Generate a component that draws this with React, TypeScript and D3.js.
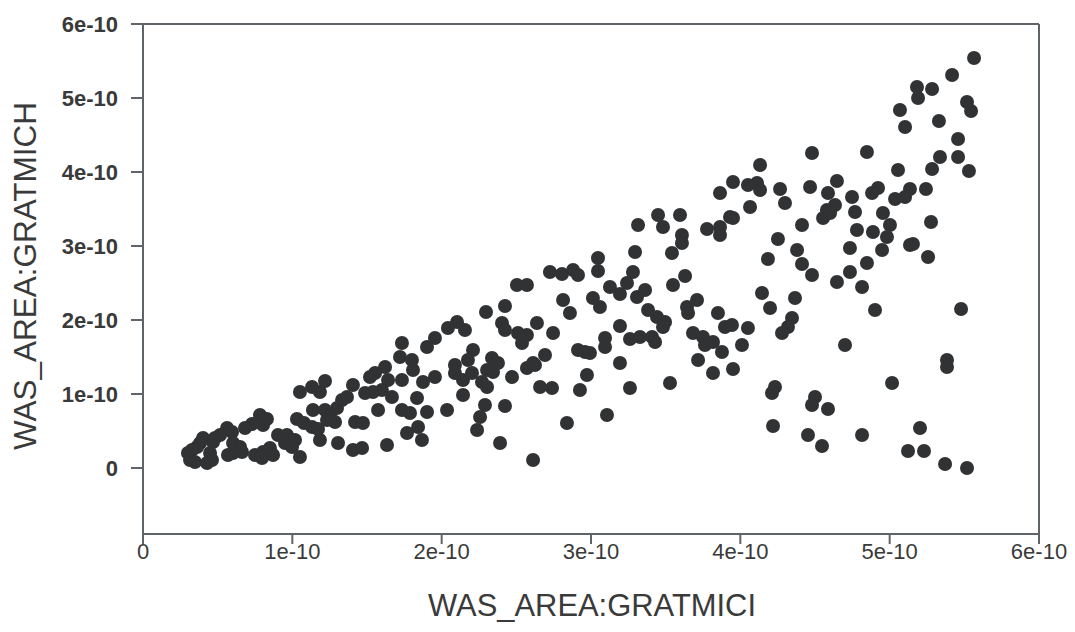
import React from "react";
import * as d3 from "d3";

// Values in units of 1e-10
const UNIT = 1e-10;

const GRATMICI = [
  1.051, 1.132, 1.185, 1.219, 1.138, 1.219, 1.252, 1.299, 1.333, 1.286, 1.232, 1.031, 1.078, 1.132, 1.172, 1.185, 1.306,
  0.783, 0.830, 0.804, 0.730, 0.683, 0.904, 0.964, 1.018, 0.951, 0.998, 1.051, 0.750, 0.804, 0.850, 0.871, 0.797,
  0.563, 0.596, 0.516, 0.482, 0.469, 0.603, 0.650, 0.663, 0.603, 0.569, 0.402, 0.382, 0.362, 0.328, 0.301, 0.315,
  0.348, 0.449, 0.462, 0.429,
  2.504, 2.571, 2.424, 2.297, 2.404, 2.424, 2.638, 2.511, 2.571, 2.538, 2.042, 2.103, 2.156, 1.955, 1.902, 1.734,
  2.210, 2.176, 2.337, 2.377, 2.344, 2.304, 2.089, 2.089, 2.143, 2.203, 1.721, 1.801, 1.808, 1.621, 1.554, 1.520,
  1.641, 1.734, 1.875, 1.955, 2.270, 2.304, 2.471, 2.571, 2.625, 2.659, 1.406, 1.366, 1.487, 1.540, 1.600, 1.667,
  1.835, 2.143, 1.574, 1.734, 1.788, 1.902, 2.036, 2.290, 2.424, 2.257, 2.237, 1.420, 1.473, 1.842, 1.768, 1.868,
  1.634, 1.406, 1.467, 2.391, 2.612,
  3.315, 3.449, 3.482, 3.596, 3.609, 3.609, 3.777, 3.864, 3.864, 3.931, 3.542, 3.295, 3.047, 3.047, 2.725, 2.806,
  2.880, 2.913, 3.281, 3.241, 3.127, 3.194, 3.308, 3.362, 3.549, 3.630, 2.813, 2.859, 3.013, 3.060, 3.382, 3.442,
  3.496, 3.482, 3.643, 3.710, 3.650, 3.850, 3.897, 2.746, 3.194, 3.094, 3.094, 3.261, 3.328, 3.409, 3.429, 3.683,
  3.750, 3.763, 3.817, 3.877, 2.913, 2.960, 2.993, 2.692, 2.612, 3.194, 3.717,
  2.973, 2.739, 2.926, 3.261, 3.529, 3.817, 3.107, 2.839,
  4.480, 4.848, 4.132, 5.056, 3.951, 4.051, 4.112, 4.132, 4.266, 4.467, 4.647, 4.587, 4.748, 4.882, 4.922, 5.036,
  5.103, 3.864, 4.065, 4.299, 4.580, 4.634, 4.554, 4.601, 4.768, 4.955, 3.951, 4.413, 4.781, 4.888, 5.002, 4.982,
  5.136, 4.252, 4.734, 4.949, 4.380, 4.185, 4.848, 4.413, 4.480, 4.734, 4.647, 4.815, 4.145, 4.366, 4.199, 4.902,
  4.346,
  3.944, 4.051, 4.319, 4.279, 4.011, 4.701, 3.951, 4.232, 4.212, 5.016, 4.500, 4.480, 4.587, 4.219, 4.453, 4.547,
  4.815, 5.123,
  5.565, 5.418, 5.183, 5.190, 5.284, 5.069, 5.518, 5.545, 5.103, 5.330, 5.458, 5.337, 5.458, 5.284, 5.531, 5.136,
  5.243, 5.277, 5.156, 5.257,
  5.478, 5.384, 5.384, 5.203, 5.230, 5.371, 5.518,
];

const GRATMICH = [
  1.027, 1.095, 1.027, 1.176, 0.784, 0.784, 0.716, 0.811, 0.919, 0.622, 0.649, 0.662, 0.608, 0.554, 0.527, 0.378, 0.338,
  0.716, 0.662, 0.581, 0.595, 0.541, 0.446, 0.446, 0.378, 0.338, 0.284, 0.149, 0.176, 0.216, 0.270, 0.176, 0.135,
  0.541, 0.486, 0.446, 0.405, 0.351, 0.338, 0.284, 0.216, 0.203, 0.176, 0.405, 0.338, 0.284, 0.243, 0.203, 0.108,
  0.081, 0.203, 0.108, 0.068,
  2.473, 2.473, 2.189, 2.108, 1.959, 1.865, 1.959, 1.824, 1.797, 1.689, 1.892, 1.973, 1.865, 1.757, 1.635, 1.689,
  1.595, 1.459, 1.486, 1.419, 1.297, 1.324, 1.392, 1.284, 1.189, 1.284, 1.500, 1.459, 1.324, 1.365, 1.284, 1.230,
  1.189, 1.189, 1.162, 1.230, 1.162, 1.095, 1.230, 1.351, 1.392, 1.095, 1.122, 0.959, 1.014, 1.027, 1.054, 0.959,
  0.946, 0.986, 0.784, 0.784, 0.743, 0.757, 0.784, 0.851, 0.838, 0.689, 0.514, 0.622, 0.608, 0.554, 0.473, 0.378,
  0.311, 0.243, 0.270, 0.338, 0.108,
  3.284, 3.419, 3.257, 3.419, 3.149, 3.041, 3.230, 3.257, 3.149, 3.392, 2.905, 2.919, 2.838, 2.662, 2.649, 2.622,
  2.676, 2.608, 2.649, 2.500, 2.446, 2.351, 2.311, 2.405, 2.473, 2.595, 2.270, 2.095, 2.297, 2.176, 2.135, 2.041,
  1.973, 1.905, 2.176, 2.270, 2.095, 2.095, 1.905, 1.824, 1.919, 1.757, 1.635, 1.743, 1.770, 1.770, 1.703, 1.824,
  1.770, 1.662, 1.703, 1.568, 1.595, 1.568, 1.554, 1.527, 1.419, 1.419, 1.459,
  1.257, 1.081, 1.054, 1.081, 1.149, 1.284, 0.716, 0.608,
  4.257, 4.270, 4.095, 4.027, 3.865, 3.824, 3.851, 3.757, 3.770, 3.797, 3.878, 3.716, 3.662, 3.716, 3.784, 3.635,
  3.662, 3.716, 3.527, 3.581, 3.486, 3.554, 3.378, 3.446, 3.459, 3.446, 3.378, 3.284, 3.216, 3.189, 3.284, 3.122,
  3.014, 3.095, 2.973, 2.946, 2.946, 2.824, 2.770, 2.757, 2.608, 2.649, 2.514, 2.446, 2.365, 2.297, 2.162, 2.135,
  2.027,
  1.932, 1.892, 1.905, 1.824, 1.662, 1.662, 1.338, 1.095, 1.014, 1.149, 0.959, 0.851, 0.797, 0.568, 0.446, 0.297,
  0.446, 0.230,
  5.541, 5.311, 5.149, 5.000, 5.122, 4.838, 4.946, 4.824, 4.608, 4.689, 4.446, 4.203, 4.203, 4.041, 4.014, 3.770,
  3.770, 3.324, 3.027, 2.851,
  2.149, 1.459, 1.365, 0.541, 0.230, 0.054, 0.000,
];

const X_TICKS = [0, 1, 2, 3, 4, 5, 6];
const X_TICK_LABELS = ["0", "1e-10", "2e-10", "3e-10", "4e-10", "5e-10", "6e-10"];
const Y_TICKS = [0, 1, 2, 3, 4, 5, 6];
const Y_TICK_LABELS = ["0", "1e-10", "2e-10", "3e-10", "4e-10", "5e-10", "6e-10"];

const X_TITLE = "WAS_AREA:GRATMICI";
const Y_TITLE = "WAS_AREA:GRATMICH";

export default function App() {
  const W = 1075;
  const H = 632;
  const left = 143;
  const right = 1039;
  const top = 24;
  const bottom = 534;

  const x = d3.scaleLinear().domain([0, 6 * UNIT]).range([left, right]);
  const y = d3.scaleLinear().domain([-0.892 * UNIT, 6 * UNIT]).range([bottom, top]);

  const axisColor = "#5f6468";
  const textColor = "#3a3a3a";
  const font = "'Liberation Sans', Arial, sans-serif";

  const pts = GRATMICI.map((v, i) => ({ vx: v * UNIT, vy: GRATMICH[i] * UNIT }));

  return (
    <svg
      width={W}
      height={H}
      viewBox={`0 0 ${W} ${H}`}
      style={{ position: "absolute", left: 0, top: 0, background: "#fff" }}
    >
      {/* frame */}
      <line x1={left} x2={right} y1={top} y2={top} stroke={axisColor} strokeWidth={2} />
      <line x1={right} x2={right} y1={top} y2={bottom} stroke={axisColor} strokeWidth={2} />
      <line x1={left} x2={right} y1={bottom} y2={bottom} stroke={axisColor} strokeWidth={2} />
      <line x1={left} x2={left} y1={top} y2={bottom} stroke={axisColor} strokeWidth={2} />

      {/* y ticks */}
      {Y_TICKS.map((t, i) => (
        <g key={"yt" + i}>
          <line x1={left - 12} x2={left} y1={y(t * UNIT)} y2={y(t * UNIT)} stroke={axisColor} strokeWidth={2} />
          <text
            x={118}
            y={y(t * UNIT)}
            dy="0.35em"
            textAnchor="end"
            fontFamily={font}
            fontSize={22}
            fontWeight="bold"
            fill={textColor}
          >
            {Y_TICK_LABELS[i]}
          </text>
        </g>
      ))}

      {/* x ticks */}
      {X_TICKS.map((t, i) => (
        <g key={"xt" + i}>
          <line x1={x(t * UNIT)} x2={x(t * UNIT)} y1={bottom} y2={bottom + 10} stroke={axisColor} strokeWidth={2} />
          <text
            x={x(t * UNIT)}
            y={551}
            dy="0.35em"
            textAnchor="middle"
            fontFamily={font}
            fontSize={22}
            fill={textColor}
          >
            {X_TICK_LABELS[i]}
          </text>
        </g>
      ))}

      {/* points */}
      {pts.map((p, i) => (
        <circle key={i} cx={x(p.vx)} cy={y(p.vy)} r={7} fill="#303234" />
      ))}

      {/* titles */}
      <text
        x={592}
        y={605}
        dy="0.35em"
        textAnchor="middle"
        fontFamily={font}
        fontSize={32}
        textLength={328}
        lengthAdjust="spacingAndGlyphs"
        fill={textColor}
      >
        {X_TITLE}
      </text>
      <text
        transform={`translate(25, 276) rotate(-90)`}
        dy="0.35em"
        textAnchor="middle"
        fontFamily={font}
        fontSize={32}
        textLength={348}
        lengthAdjust="spacingAndGlyphs"
        fill={textColor}
      >
        {Y_TITLE}
      </text>
    </svg>
  );
}
